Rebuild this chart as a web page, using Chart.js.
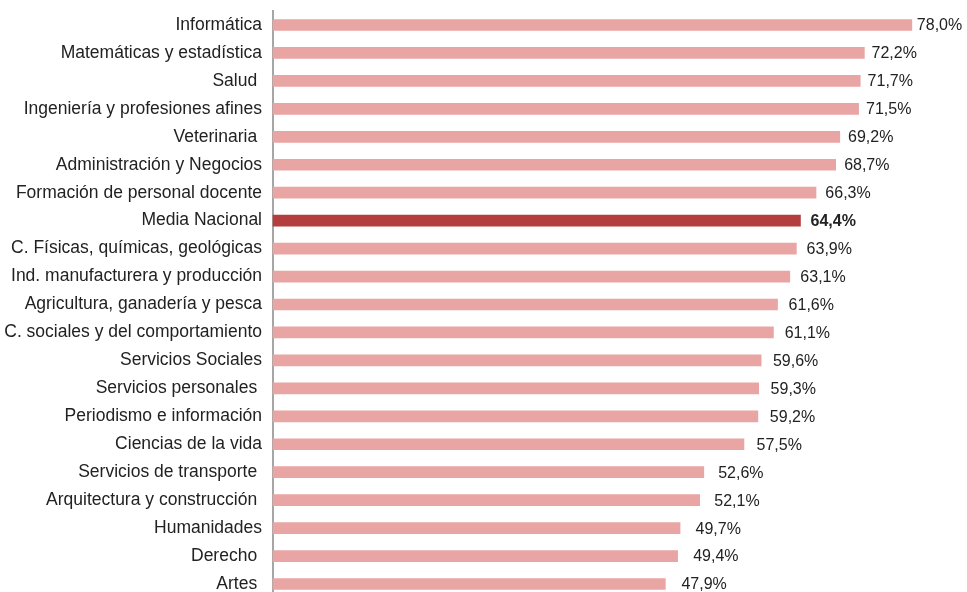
<!DOCTYPE html>
<html>
<head>
<meta charset="utf-8">
<script src="https://cdn.jsdelivr.net/npm/chart.js@4.4.1/dist/chart.umd.min.js"></script>
<style>
  html, body { margin: 0; padding: 0; background: #fff; overflow: hidden; }
  #wrap { width: 967px; height: 592px; }
</style>
</head>
<body>
<div id="wrap"><canvas id="grafico"></canvas></div>
<script>
const categorias = [
    'Informática', 'Matemáticas y estadística', 'Salud ', 'Ingeniería y profesiones afines',
    'Veterinaria ', 'Administración y Negocios', 'Formación de personal docente', 'Media Nacional',
    'C. Físicas, químicas, geológicas', 'Ind. manufacturera y producción', 'Agricultura, ganadería y pesca',
    'C. sociales y del comportamiento', 'Servicios Sociales', 'Servicios personales ',
    'Periodismo e información', 'Ciencias de la vida', 'Servicios de transporte ',
    'Arquitectura y construcción ', 'Humanidades', 'Derecho ', 'Artes '
];
const valores = [78.0, 72.2, 71.7, 71.5, 69.2, 68.7, 66.3, 64.4, 63.9, 63.1, 61.6, 61.1, 59.6, 59.3, 59.2, 57.5, 52.6, 52.1, 49.7, 49.4, 47.9];
const destacado = 'Media Nacional';

const colorBarra = '#e8a5a3';
const colorDestacado = '#b43d3e';
const colorTexto = '#222222';
const fuente = '"Liberation Sans", Arial, sans-serif';

// etiquetas de valor al final de cada barra (en el original se separan un poco más cuanto más corta la barra)
const etiquetas = {
    id: 'etiquetas',
    afterDatasetsDraw(chart) {
        const ctx = chart.ctx;
        const meta = chart.getDatasetMeta(0);
        const maximo = Math.max(...valores);
        ctx.save();
        ctx.textBaseline = 'middle';
        ctx.fillStyle = colorTexto;
        meta.data.forEach((bar, i) => {
            const bold = categorias[i] === destacado;
            ctx.font = (bold ? 'bold ' : '') + '16px ' + fuente;
            const sep = 5 + (maximo - valores[i]) * 0.37;
            ctx.fillText(valores[i].toFixed(1).replace('.', ',') + '%', bar.x + sep, bar.y + 1);
        });
        ctx.restore();
    }
};

// línea del eje vertical
const ejeVertical = {
    id: 'ejeVertical',
    beforeDatasetsDraw(chart) {
        const ctx = chart.ctx;
        const x = chart.scales.x.left;
        ctx.save();
        ctx.strokeStyle = '#a6a6a6';
        ctx.lineWidth = 2;
        ctx.beginPath();
        ctx.moveTo(x, chart.chartArea.top - 15);
        ctx.lineTo(x, chart.height);
        ctx.stroke();
        ctx.restore();
    }
};

new Chart(document.getElementById('grafico'), {
    type: 'bar',
    data: {
        labels: categorias,
        datasets: [{
            data: valores,
            backgroundColor: categorias.map(c => c === destacado ? colorDestacado : colorBarra),
            barThickness: 11,
            borderWidth: 0,
            clip: false
        }]
    },
    options: {
        indexAxis: 'y',
        responsive: true,
        maintainAspectRatio: false,
        animation: false,
        layout: { padding: { top: 25, bottom: 8, left: 0, right: 6 } },
        plugins: {
            legend: { display: false },
            tooltip: { enabled: false }
        },
        scales: {
            x: {
                min: 0,
                max: 84,
                display: false
            },
            y: {
                offset: false,
                grid: { display: false, drawTicks: false },
                border: { display: false },
                ticks: {
                    color: colorTexto,
                    font: { family: fuente, size: 17.5 },
                    padding: 11,
                    autoSkip: false
                },
                afterFit(scale) {
                    scale.width = 273;
                    scale.paddingTop = 0;
                    scale.paddingBottom = 0;
                }
            }
        }
    },
    plugins: [ejeVertical, etiquetas]
});
</script>
</body>
</html>
